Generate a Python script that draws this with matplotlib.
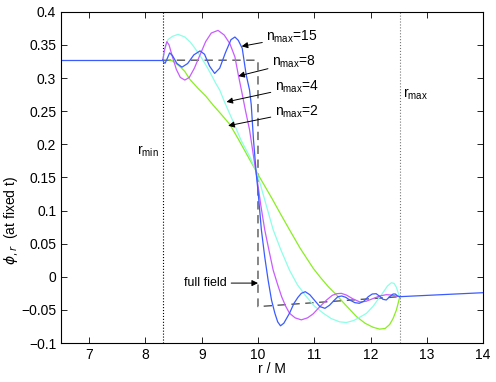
import numpy as np
import matplotlib.pyplot as plt

plt.rcParams['font.family'] = ['Liberation Sans', 'DejaVu Sans']
plt.rcParams['mathtext.fontset'] = 'dejavusans'

# outer region (all n_max coincide with full field)
r_left = [6.5, 8.31]
phi_left = [0.328, 0.328]
r_right = [12.52, 14.0]
phi_right = [-0.030, -0.024]

# full field (dashed)
r_full = [8.31, 10.0, 10.0, 12.52]
phi_full = [0.327, 0.327, -0.045, -0.030]

# n_max = 2
r_n2 = [8.31, 8.40, 8.48, 8.56, 8.63, 8.70, 8.79, 8.94, 9.07, 9.20, 9.35, 9.50, 9.65,
        9.80, 9.97, 10.10, 10.25, 10.40, 10.56, 10.75, 10.98, 11.10, 11.25, 11.39,
        11.55, 11.75, 11.90, 12.04, 12.16, 12.26, 12.34, 12.40, 12.46, 12.49, 12.52]
phi_n2 = [0.328, 0.328, 0.326, 0.321, 0.316, 0.310, 0.298, 0.284, 0.273, 0.2595, 0.245,
          0.230, 0.208, 0.185, 0.159, 0.140, 0.118, 0.095, 0.071, 0.043, 0.013, 0.000,
          -0.015, -0.027, -0.042, -0.060, -0.070, -0.076, -0.079, -0.078, -0.072, -0.063,
          -0.050, -0.040, -0.030]

# n_max = 4
r_n4 = [8.31, 8.35, 8.40, 8.48, 8.58, 8.70, 8.80, 8.88, 9.00, 9.10, 9.17, 9.25, 9.32,
        9.41, 9.56, 9.70, 9.85, 9.97, 10.03, 10.15, 10.27, 10.40, 10.56, 10.70, 10.86,
        11.00, 11.16, 11.30, 11.45, 11.57, 11.70, 11.83, 11.93, 12.05, 12.15, 12.22,
        12.30, 12.37, 12.42, 12.46, 12.49, 12.52]
phi_n4 = [0.328, 0.345, 0.358, 0.363, 0.366, 0.362, 0.354, 0.345, 0.330, 0.316, 0.305,
          0.292, 0.282, 0.263, 0.234, 0.206, 0.182, 0.159, 0.143, 0.107, 0.071, 0.042,
          0.010, -0.012, -0.030, -0.044, -0.055, -0.063, -0.068, -0.069, -0.066, -0.060,
          -0.055, -0.044, -0.032, -0.024, -0.014, -0.009, -0.010, -0.016, -0.024, -0.030]

# n_max = 8
r_n8 = [8.31, 8.34, 8.38, 8.42, 8.48, 8.55, 8.62, 8.70, 8.78, 8.87, 8.97, 9.07, 9.17,
        9.29, 9.40, 9.50, 9.59, 9.65, 9.71, 9.78, 9.85, 9.94, 9.98, 10.05, 10.12, 10.20,
        10.27, 10.35, 10.42, 10.49, 10.56, 10.66, 10.77, 10.88, 10.98, 11.10, 11.22,
        11.32, 11.40, 11.48, 11.57, 11.68, 11.81, 11.92, 12.04, 12.16, 12.28, 12.37,
        12.45, 12.52]
phi_n8 = [0.328, 0.343, 0.355, 0.350, 0.332, 0.313, 0.301, 0.297, 0.301, 0.315, 0.335,
          0.355, 0.368, 0.372, 0.365, 0.352, 0.332, 0.305, 0.280, 0.250, 0.222, 0.171,
          0.150, 0.108, 0.071, 0.038, 0.010, -0.012, -0.030, -0.044, -0.055, -0.062,
          -0.065, -0.062, -0.056, -0.045, -0.035, -0.028, -0.0255, -0.025, -0.0275,
          -0.033, -0.038, -0.037, -0.033, -0.029, -0.027, -0.0275, -0.029, -0.030]

# n_max = 15
r_n15 = [8.31, 8.33, 8.35, 8.38, 8.43, 8.48, 8.56, 8.65, 8.75, 8.86, 8.97, 9.05, 9.14,
         9.23, 9.32, 9.42, 9.52, 9.59, 9.65, 9.72, 9.79, 9.85, 9.88, 9.92, 9.97, 10.00,
         10.06, 10.12, 10.18, 10.24, 10.30, 10.35, 10.40, 10.46, 10.56, 10.64, 10.71,
         10.77, 10.84, 10.92, 11.01, 11.10, 11.19, 11.27, 11.36, 11.42, 11.49, 11.56,
         11.63, 11.72, 11.80, 11.88, 11.96, 12.03, 12.10, 12.17, 12.22, 12.28, 12.34,
         12.40, 12.44, 12.48, 12.52]
phi_n15 = [0.328, 0.323, 0.3225, 0.328, 0.338, 0.334, 0.322, 0.3165, 0.322, 0.335, 0.341,
           0.336, 0.318, 0.307, 0.315, 0.338, 0.358, 0.362, 0.357, 0.345, 0.305, 0.282,
           0.260, 0.207, 0.155, 0.130, 0.071, 0.030, -0.005, -0.035, -0.055, -0.068,
           -0.074, -0.070, -0.055, -0.040, -0.031, -0.025, -0.0225, -0.027, -0.036, -0.045,
           -0.0476, -0.043, -0.035, -0.030, -0.029, -0.031, -0.035, -0.039, -0.040, -0.037,
           -0.030, -0.026, -0.0255, -0.030, -0.034, -0.035, -0.030, -0.026, -0.026, -0.029,
           -0.030]

xticks = [7, 8, 9, 10, 11, 12, 13, 14]
yticks = [-0.1, -0.05, 0, 0.05, 0.1, 0.15, 0.2, 0.25, 0.3, 0.35, 0.4]
ytick_labels = ['\u22120.1', '\u22120.05', '0', '0.05', '0.1', '0.15', '0.2', '0.25',
                '0.3', '0.35', '0.4']

c2 = '#8aee22'
c4 = '#8cffe6'
c8 = '#c85cff'
c15 = '#3a5cff'

fig = plt.figure(figsize=(4.96, 3.82), dpi=100)
ax = fig.add_axes([0.123, 0.102, 0.851, 0.867])

ax.axvline(8.31, color='k', ls=':', lw=0.8)
ax.axvline(12.52, color='#777777', ls=':', lw=0.8)

ax.plot(r_full, phi_full, color='#555555', ls=(0, (6, 4)), lw=1.0)
ax.plot(r_n2, phi_n2, color=c2, lw=0.9)
ax.plot(r_n4, phi_n4, color=c4, lw=0.9)
ax.plot(r_n8, phi_n8, color=c8, lw=0.9)
ax.plot(r_n15, phi_n15, color=c15, lw=0.9)
ax.plot(r_left, phi_left, color=c15, lw=0.9)
ax.plot(r_right, phi_right, color=c15, lw=0.9)

arrow = dict(arrowstyle='-|>', color='k', lw=0.7, mutation_scale=9, shrinkA=1, shrinkB=0)
fs = 10
ax.annotate('$\\mathregular{n_{max}}$=15', xy=(9.71, 0.348), xytext=(10.15, 0.362),
            ha='left', va='center', fontsize=fs, arrowprops=arrow)
ax.annotate('$\\mathregular{n_{max}}$=8', xy=(9.65, 0.303), xytext=(10.25, 0.324),
            ha='left', va='center', fontsize=fs, arrowprops=arrow)
ax.annotate('$\\mathregular{n_{max}}$=4', xy=(9.44, 0.264), xytext=(10.30, 0.287),
            ha='left', va='center', fontsize=fs, arrowprops=arrow)
ax.annotate('$\\mathregular{n_{max}}$=2', xy=(9.47, 0.228), xytext=(10.30, 0.249),
            ha='left', va='center', fontsize=fs, arrowprops=arrow)
ax.annotate('full field', xy=(10.0, -0.0095), xytext=(9.45, -0.0095),
            ha='right', va='center', fontsize=9, arrowprops=arrow)

ax.text(7.85, 0.19, '$\\mathregular{r_{min}}$', fontsize=fs, ha='left', va='center')
ax.text(12.57, 0.275, '$\\mathregular{r_{max}}$', fontsize=fs, ha='left', va='center')

ax.set_xlim(6.5, 14)
ax.set_ylim(-0.1, 0.4)
ax.set_xticks(xticks)
ax.set_xticklabels([str(t) for t in xticks])
ax.set_yticks(yticks)
ax.set_yticklabels(ytick_labels)
ax.tick_params(direction='in', top=True, right=True, length=4, width=0.6, labelsize=fs)
for s in ax.spines.values():
    s.set_linewidth(0.8)

ax.set_xlabel('r / M', fontsize=fs, labelpad=0)
ax.set_ylabel('$\\phi_{,r}$  (at fixed t)', fontsize=fs)
ax.yaxis.set_label_coords(-0.097, 0.37)

fig.savefig('out.png', dpi=100)
